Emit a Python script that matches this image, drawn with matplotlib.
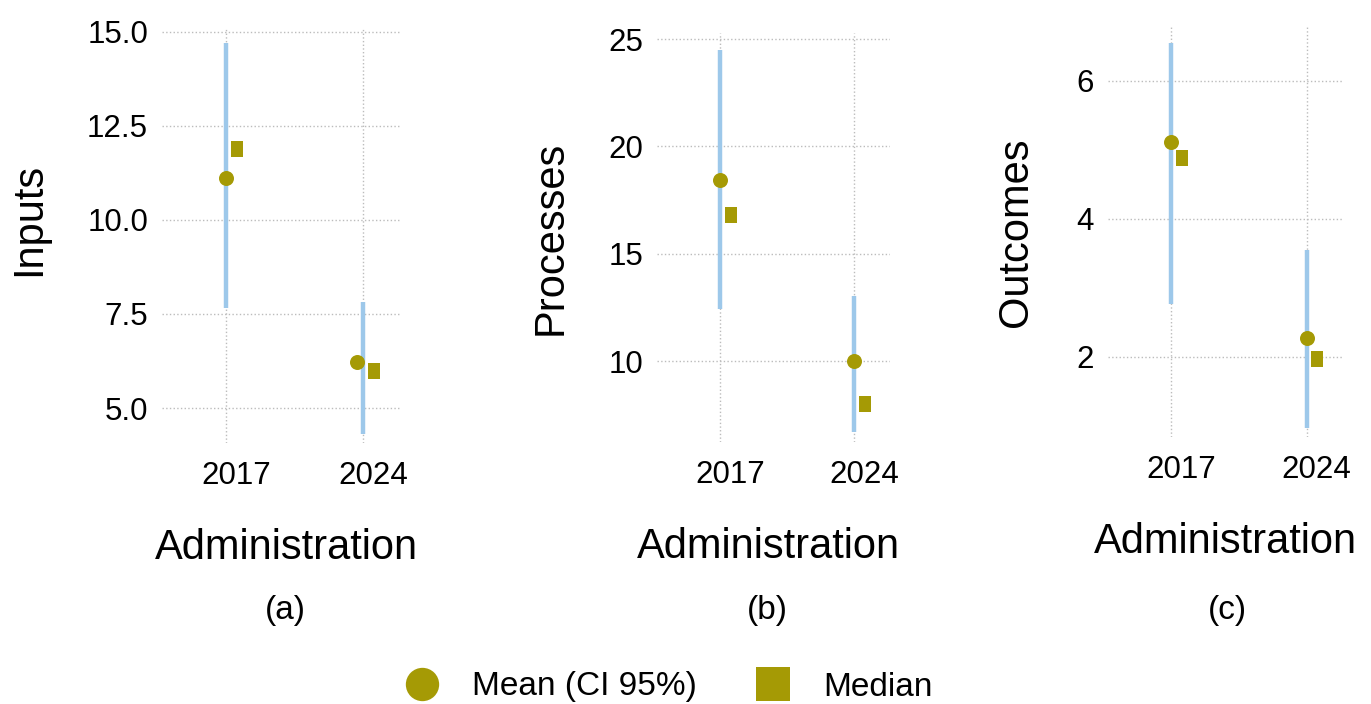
import matplotlib
matplotlib.use("Agg")
import matplotlib.pyplot as plt
from matplotlib.lines import Line2D
from matplotlib.path import Path
from matplotlib.transforms import ScaledTranslation

plt.rcParams['font.family'] = ['Liberation Sans', 'DejaVu Sans']

# ---------------- data ----------------
categories = ["2017", "2024"]
panel_ylabels = ["Inputs", "Processes", "Outcomes"]
panel_tags = ["(a)", "(b)", "(c)"]
x_label = "Administration"
legend_labels = ["Mean (CI 95%)", "Median"]

inputs_mean = [11.11, 6.22]
inputs_median = [11.89, 5.98]
inputs_ci_low = [7.66, 4.31]
inputs_ci_high = [14.71, 7.82]

processes_mean = [18.43, 10.0]
processes_median = [16.80, 8.0]
processes_ci_low = [12.42, 6.70]
processes_ci_high = [24.49, 13.03]

outcomes_mean = [5.12, 2.28]
outcomes_median = [4.88, 1.97]
outcomes_ci_low = [2.77, 0.97]
outcomes_ci_high = [6.55, 3.55]

inputs_ticks = [5.0, 7.5, 10.0, 12.5, 15.0]
processes_ticks = [10, 15, 20, 25]
outcomes_ticks = [2, 4, 6]

# ---------------- layout / style ----------------
W, H = 1371, 704
DPI = 100
def fx(px):
    return px / W
def fy(py):
    return 1 - py / H

boxes = [(162, 28, 400, 443), (657, 33, 890, 442), (1108, 27, 1343, 437)]
ylims = [(4.07, 15.1), (6.23, 25.28), (0.84, 6.78)]
xlim = (-0.47, 1.27)
ylabel_pos = [(40, 219), (562, 238), (1027, 232)]      # baseline x, center y
xlabel_pos = [(286, 559), (768, 558), (1225, 553)]     # center x, baseline y
tag_pos = [(285, 610), (767, 610), (1227, 611)]
tick_fmt = ["{:.1f}", "{:d}", "{:d}"]
mean_dx = [[0.0, -0.045], [0.0, 0.0], [0.0, 0.0]]
median_dx = 0.08

CI_COLOR = "#9dc8ea"
MARK_COLOR = "#a59a05"
GRID_COLOR = "#bcbcbc"

rect_marker = Path([(-0.375, -0.5), (0.375, -0.5), (0.375, 0.5),
                    (-0.375, 0.5), (-0.375, -0.5)],
                   [Path.MOVETO, Path.LINETO, Path.LINETO, Path.LINETO, Path.CLOSEPOLY])

panels = [
    (inputs_mean, inputs_median, inputs_ci_low, inputs_ci_high, inputs_ticks),
    (processes_mean, processes_median, processes_ci_low, processes_ci_high, processes_ticks),
    (outcomes_mean, outcomes_median, outcomes_ci_low, outcomes_ci_high, outcomes_ticks),
]

fig = plt.figure(figsize=(W / DPI, H / DPI), dpi=DPI)
fig.patch.set_facecolor("white")

xs = list(range(len(categories)))
for i, (mean, median, lo, hi, ticks) in enumerate(panels):
    l, t, r, b = boxes[i]
    ax = fig.add_axes([fx(l), fy(b), (r - l) / W, (b - t) / H])
    ax.set_xlim(*xlim)
    ax.set_ylim(*ylims[i])
    for s in ax.spines.values():
        s.set_visible(False)
    ax.vlines(xs, lo, hi, color=CI_COLOR, linewidth=3.2, capstyle="butt", zorder=2)
    ax.plot([x + d for x, d in zip(xs, mean_dx[i])], mean, linestyle="none",
            marker="o", markersize=10.8, markeredgewidth=0, color=MARK_COLOR, zorder=3)
    ax.plot([x + median_dx for x in xs], median, linestyle="none",
            marker=rect_marker, markersize=11.3, markeredgewidth=0, color=MARK_COLOR, zorder=3)

    ax.set_xticks(xs)
    ax.set_xticklabels(categories, fontsize=22.5)
    ax.set_yticks(ticks)
    ax.set_yticklabels([tick_fmt[i].format(v) for v in ticks], fontsize=22.5)
    ax.tick_params(axis="x", length=0, pad=13)
    ax.tick_params(axis="y", length=0, pad=10)
    for lab in ax.get_xticklabels():
        lab.set_transform(lab.get_transform() + ScaledTranslation(10 / DPI, 0, fig.dpi_scale_trans))
    ax.grid(True, color=GRID_COLOR, linestyle=":", linewidth=1.0, zorder=0)
    ax.set_axisbelow(True)

    ax.set_ylabel(panel_ylabels[i], fontsize=30)
    ax.yaxis.label.set_verticalalignment("baseline")
    yx, yy = ylabel_pos[i]
    ax.yaxis.set_label_coords(fx(yx), fy(yy), transform=fig.transFigure)

    ax.set_xlabel(x_label, fontsize=30)
    ax.xaxis.label.set_verticalalignment("baseline")
    xx, xy = xlabel_pos[i]
    ax.xaxis.set_label_coords(fx(xx), fy(xy), transform=fig.transFigure)

    tx, ty = tag_pos[i]
    fig.text(fx(tx), fy(ty), panel_tags[i], fontsize=24, ha="center", va="center")

handles = [
    Line2D([], [], linestyle="none", marker="o", markersize=24, markeredgewidth=0, color=MARK_COLOR),
    Line2D([], [], linestyle="none", marker="s", markersize=24, markeredgewidth=0, color=MARK_COLOR),
]
fig.legend(handles, legend_labels, loc="center", bbox_to_anchor=(fx(669), fy(687)),
           ncol=2, frameon=False, fontsize=24, handlelength=1.0, handletextpad=1.0,
           columnspacing=1.8, borderpad=0.0, borderaxespad=0.0)

fig.savefig("out.png", dpi=DPI, facecolor="white")
